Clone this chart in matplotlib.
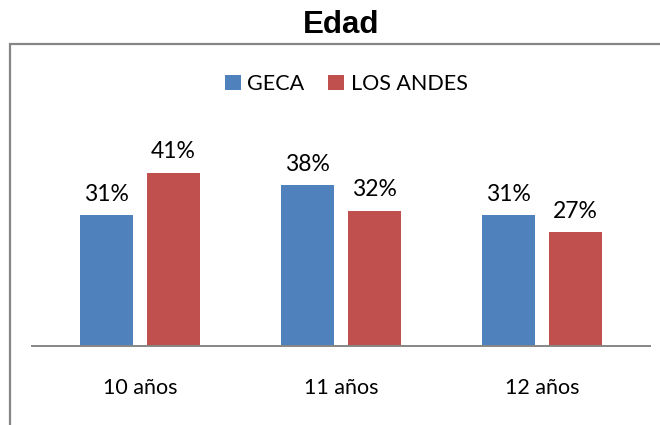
import matplotlib.pyplot as plt
import numpy as np
from matplotlib.patches import Rectangle

categories = ['10 años', '11 años', '12 años']
geca = [31, 38, 31]
los_andes = [41, 32, 27]
series_names = ['GECA', 'LOS ANDES']
colors = ['#4f81bd', '#c0504d']

plt.rcParams['font.family'] = ['Lato', 'DejaVu Sans']

W, H = 660, 425
fig = plt.figure(figsize=(W / 100, H / 100), dpi=100)

# outer chart border (cut off at right and bottom like the source)
fig.patches.append(Rectangle((10 / W, -0.1), 1.2, (H - 44) / H + 0.1,
                             transform=fig.transFigure, fill=False,
                             edgecolor='#868686', linewidth=1.6))

fig.text(341 / W, 1 - 25 / H, 'Edad', ha='center', va='center',
         fontsize=22.5, fontweight='bold', family='Liberation Sans')

ax = fig.add_axes([32 / W, (H - 346) / H, 618 / W, 246 / H])
x = np.arange(len(categories))
w = 0.264
off = 0.167
b1 = ax.bar(x - off, geca, w, color=colors[0], label=series_names[0])
b2 = ax.bar(x + off, los_andes, w, color=colors[1], label=series_names[1])

for bars, vals in ((b1, geca), (b2, los_andes)):
    for rect, v in zip(bars, vals):
        ax.text(rect.get_x() + rect.get_width() / 2, v + 2.4, f'{v}%',
                ha='center', va='bottom', fontsize=16.5)

ax.set_xlim(-0.537, 2.537)
ax.set_ylim(0, 246 / 4.23)
ax.set_yticks([])
ax.set_xticks(x)
ax.set_xticklabels(categories, fontsize=15.5)
ax.tick_params(axis='x', length=0, pad=23)
for s in ['top', 'right', 'left']:
    ax.spines[s].set_visible(False)
ax.spines['bottom'].set_color('#868686')
ax.spines['bottom'].set_linewidth(1.4)

leg = fig.legend(loc='center', bbox_to_anchor=(346 / W, 1 - 84 / H), ncol=2,
                 frameon=False, fontsize=15.5, handlelength=0.75, handleheight=0.75,
                 handletextpad=0.3, columnspacing=1.1)

fig.savefig('out.png', dpi=100)
